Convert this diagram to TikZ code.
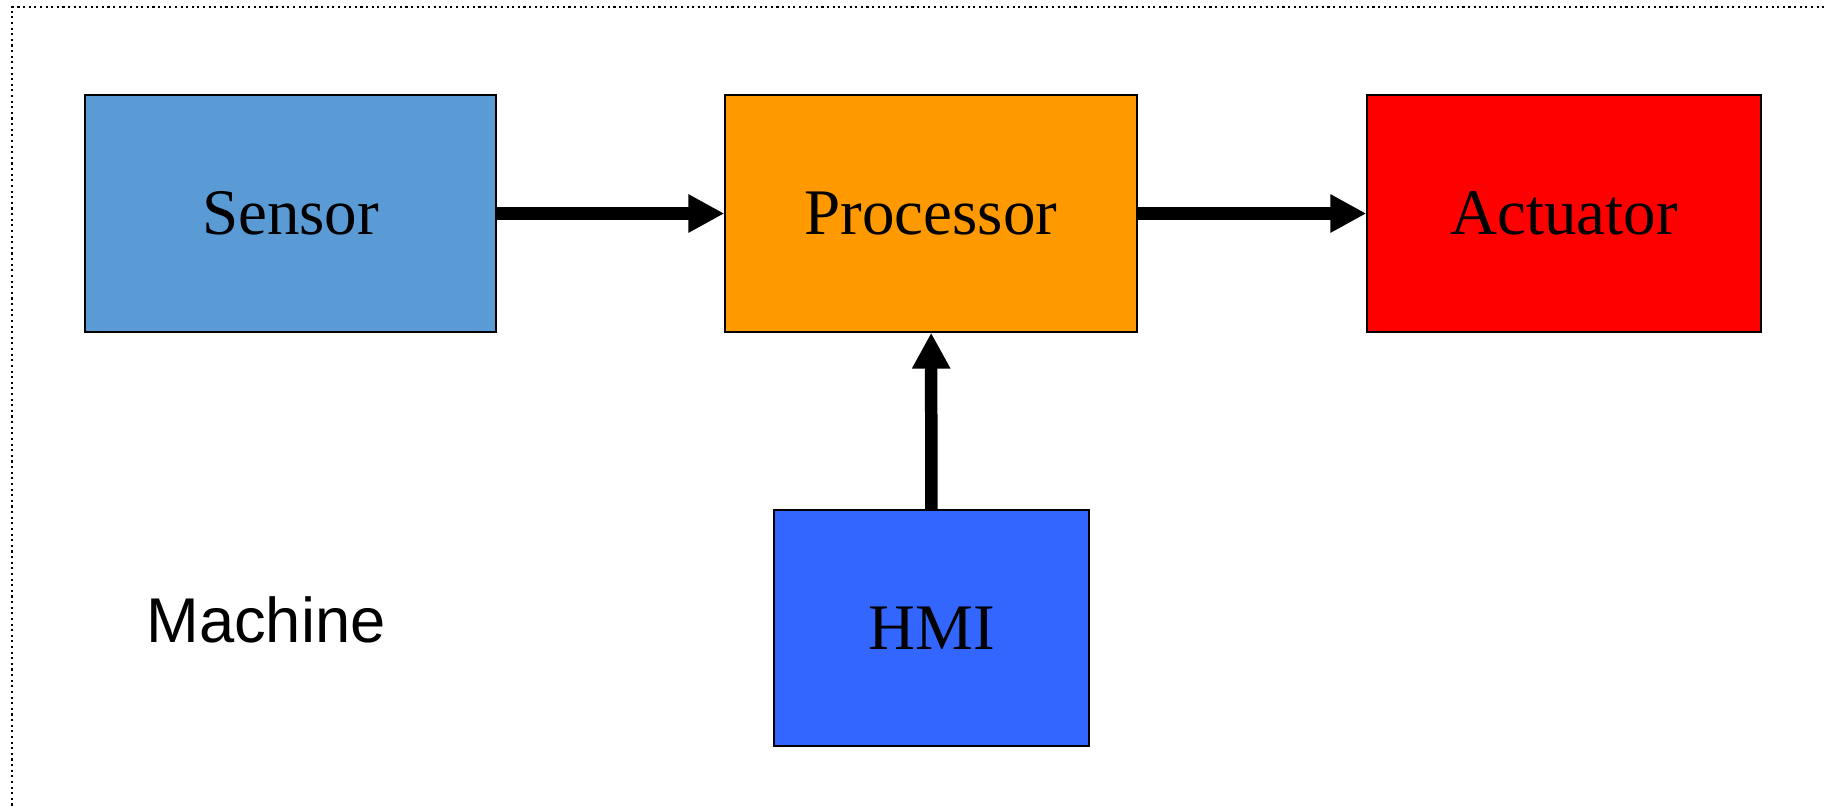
\documentclass[tikz,border=0pt]{standalone}
\usepackage{fontspec}
\setmainfont{Liberation Serif}
\newfontfamily\machinefont{Liberation Sans}
\usetikzlibrary{arrows.meta}

\begin{document}
\begin{tikzpicture}[x=0.02cm, y=-0.02cm,
        block/.style={draw, line width=0.8pt, inner sep=0pt, font=\fontsize{37}{44}\selectfont},
        flow/.style={line width=0.25cm, -{Triangle[length=0.72cm, width=0.72cm]}}]
        \useasboundingbox (0,0) rectangle (1826,806);

        % --- Draw frame ---
        \draw[dotted, line width=1.2pt] (12,828) -- (12,7) -- (1840,7);
        \node[font=\machinefont\fontsize{36}{43}\selectfont] (machine) at (266,620) {Machine};
        % ---

        % --- Draw blocks ---
        \node[block, fill={rgb,255:red,91;green,155;blue,213}, minimum width=8.22cm, minimum height=4.74cm] (sensor) at (290.5,213.5) {Sensor};
        \node[block, fill={rgb,255:red,255;green,153;blue,0}, minimum width=8.24cm, minimum height=4.74cm] (processor) at (931,213.5) {Processor};
        \node[block, fill={rgb,255:red,255;green,0;blue,0}, minimum width=7.88cm, minimum height=4.74cm] (actuator) at (1564,213.5) {Actuator};
        \node[block, fill={rgb,255:red,51;green,102;blue,255}, minimum width=6.3cm, minimum height=4.72cm] (hmi) at (931.5,628) {HMI};
        % ---

        % --- Draw connections ---
        \draw[flow] (sensor) -- (processor);
        \draw[flow] (processor) -- (actuator);
        \draw[flow] (hmi) -- (processor);
        % ---
    \end{tikzpicture}
\end{document}
